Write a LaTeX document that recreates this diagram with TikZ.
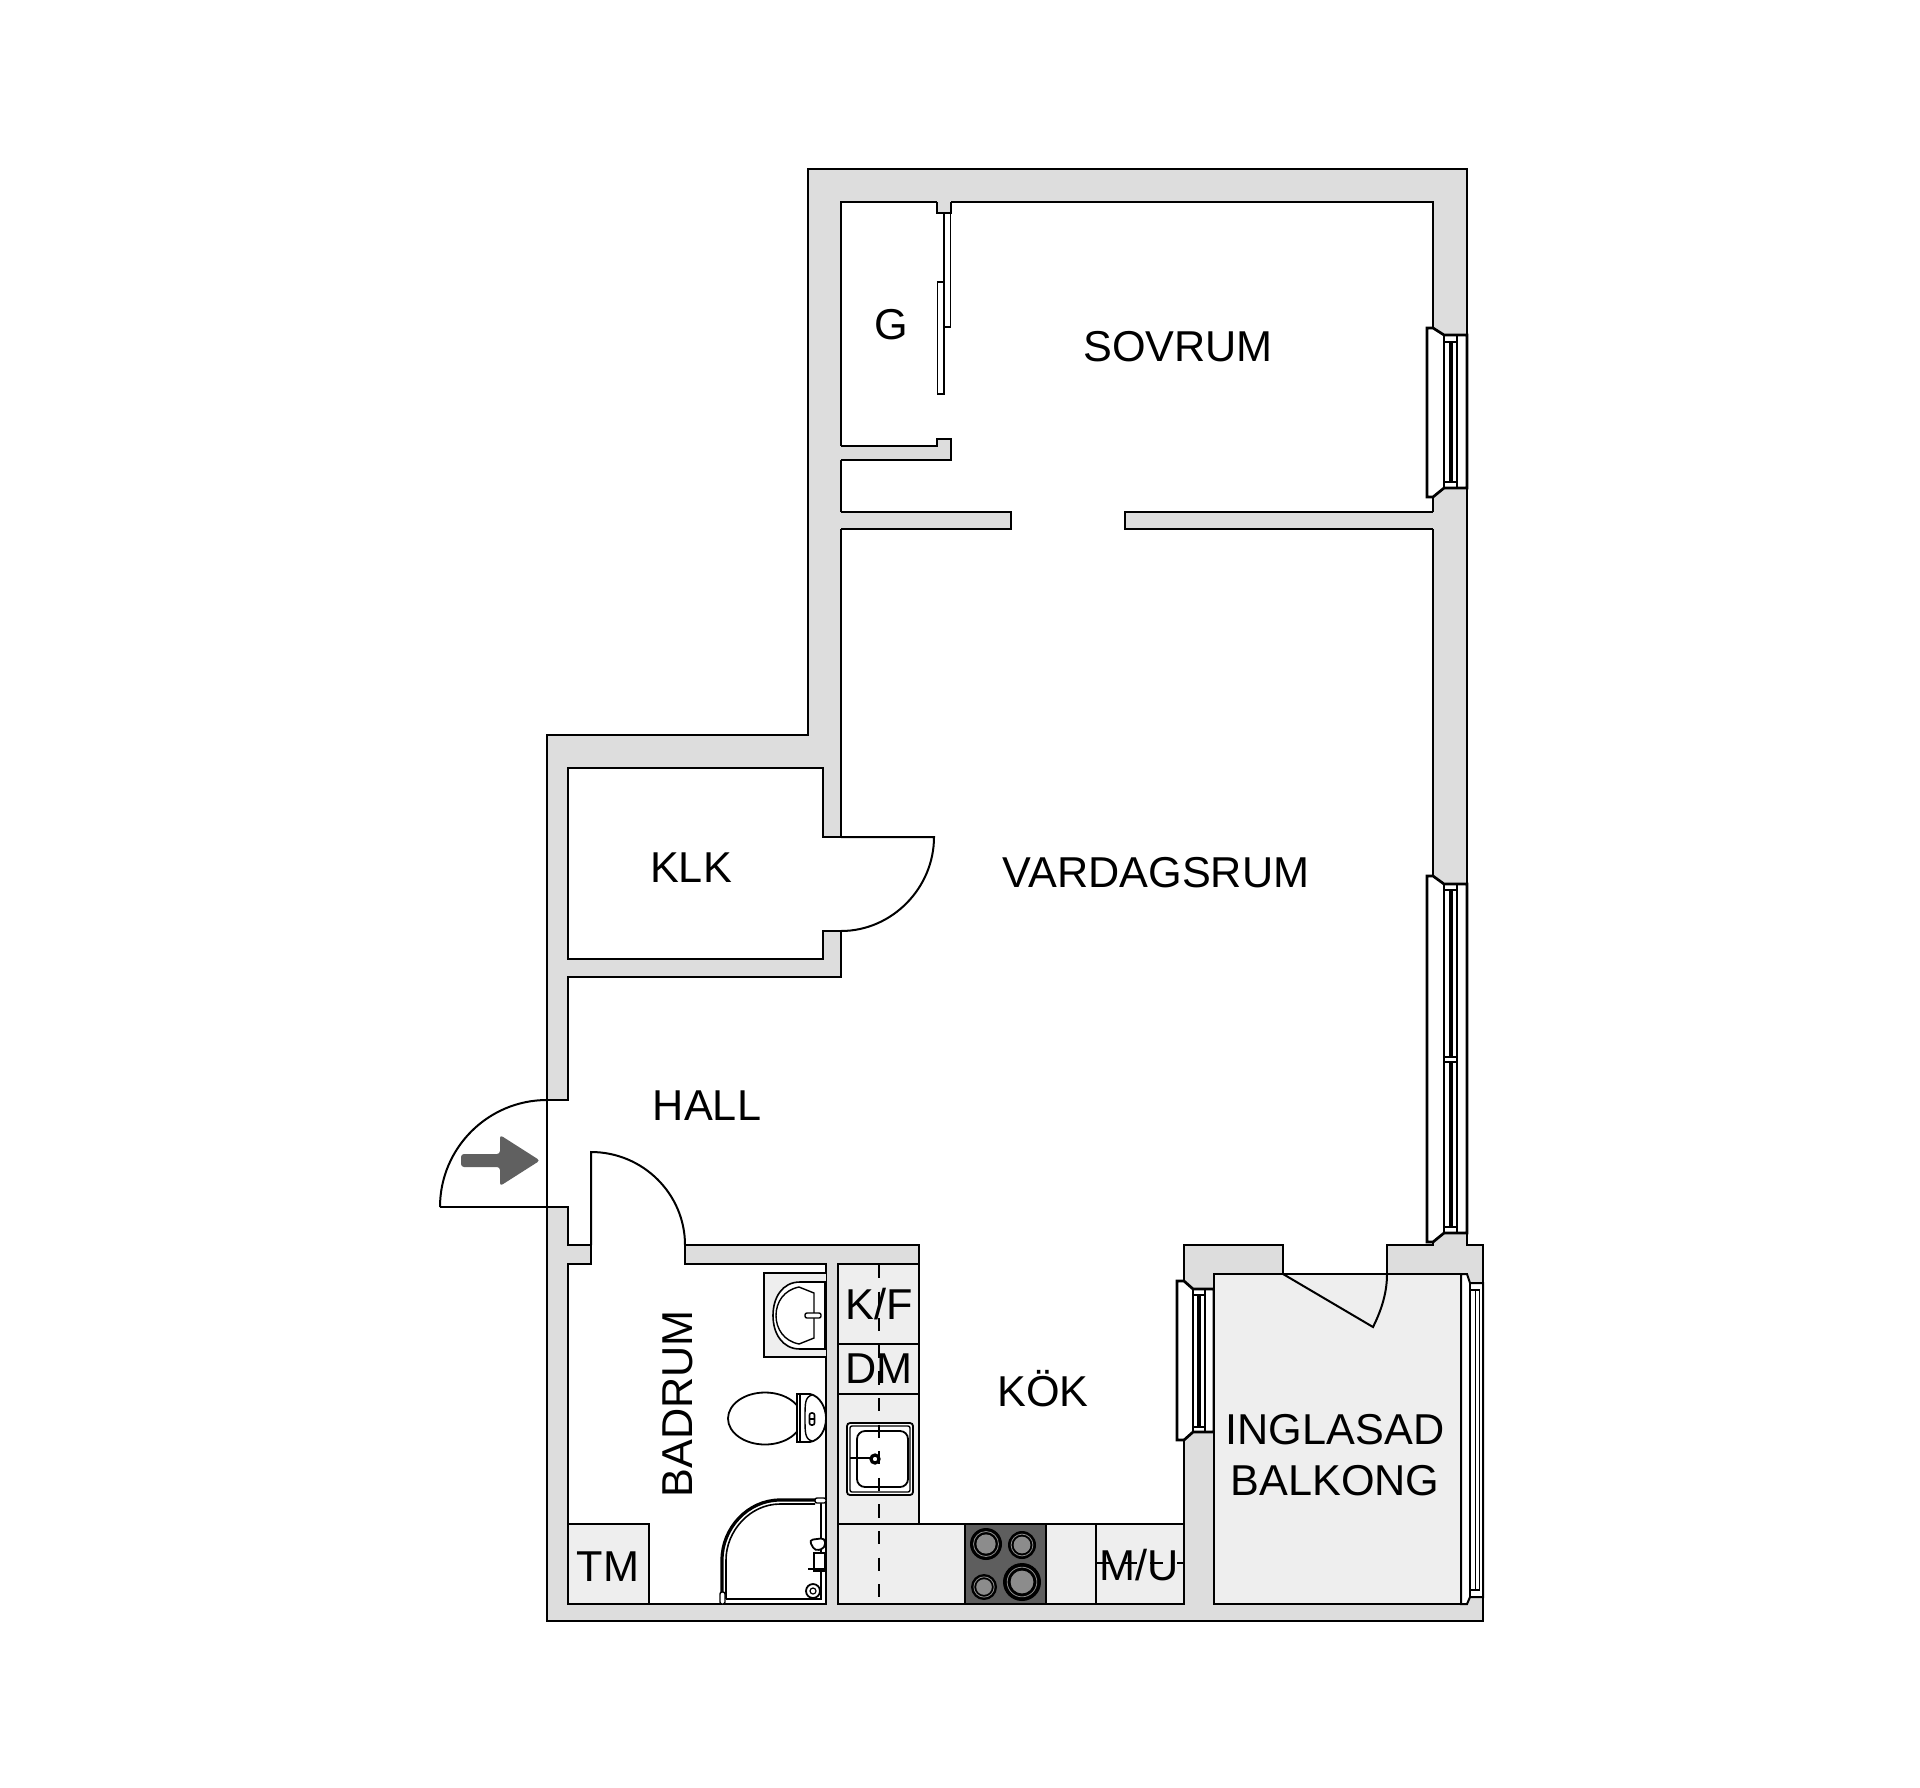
\documentclass[tikz,border=0pt]{standalone}
\usepackage{fontspec}
\setmainfont{Liberation Sans}
\usepackage{tikz}
\definecolor{wallgray}{HTML}{DDDDDD}
\definecolor{unitgray}{HTML}{EEEEEE}
\definecolor{hobgray}{HTML}{5E5E5E}
\definecolor{plategray}{HTML}{8C8C8C}
\definecolor{arrowgray}{HTML}{606060}
\tikzset{
    room/.style={inner sep=0pt, align=center, font=\fontsize{21.6}{25.5}\selectfont},
    wallline/.style={draw=black, line width=1.35pt, line join=miter},
    thinline/.style={draw=black, line width=0.65pt},
    fixture/.style={draw=black, line width=0.9pt, fill=white},
    dashline/.style={draw=black, line width=0.8pt, dash pattern=on 6.6pt off 6.7pt},
}

\begin{document}
\begin{tikzpicture}[x=0.5pt, y=-0.5pt]
    \useasboundingbox (0,0) rectangle (1920,1787);

    % Outer shell
    \filldraw[fill=wallgray, draw=black, line width=1pt] (808,169) -- (1467,169) -- (1467,1245) -- (1483,1245)
        -- (1483,1621) -- (547,1621) -- (547,735) -- (808,735) -- cycle;

    % Rooms, one floor area
    \filldraw[fill=white, wallline] (841,202) -- (1433,202) -- (1433,1245) -- (1387,1245) -- (1387,1274)
        -- (1283,1274) -- (1283,1245) -- (1184,1245) -- (1184,1524) -- (919,1524) -- (919,1245)
        -- (685,1245) -- (685,1264) -- (826,1264) -- (826,1604) -- (568,1604) -- (568,1264)
        -- (591,1264) -- (591,1245) -- (568,1245) -- (568,1207) -- (547,1207) -- (547,1100)
        -- (568,1100) -- (568,977) -- (841,977) -- (841,931) -- (823,931) -- (823,959)
        -- (568,959) -- (568,768) -- (823,768) -- (823,837) -- (841,837) -- cycle;

    % Inner walls
    \fill[wallgray] (838,512) rectangle (1011,529);
    \draw[wallline] (841,512) -- (1011,512) -- (1011,529) -- (841,529);
    \fill[wallgray] (1125,512) rectangle (1436,529);
    \draw[wallline] (1433,512) -- (1125,512) -- (1125,529) -- (1433,529);
    \fill[wallgray] (838,446) -- (937,446) -- (937,439) -- (951,439) -- (951,460) -- (838,460) -- cycle;
    \draw[wallline] (841,446) -- (937,446) -- (937,439) -- (951,439) -- (951,460) -- (841,460);
    \fill[wallgray] (937,199) rectangle (951,213);
    \draw[wallline] (937,202) -- (937,213) -- (951,213) -- (951,202);

    % Sliding doors
    \filldraw[fill=white, thinline] (944,213) rectangle (950.5,327);
    \filldraw[fill=white, thinline] (937.5,282) rectangle (944,394);

    % Sovrum window
    \filldraw[fill=white, wallline] (1427,328) -- (1433,328) -- (1444,335) -- (1467,335) -- (1467,488)
        -- (1444,488) -- (1433,497) -- (1427,497) -- cycle;
    \draw[thinline] (1444,335) -- (1444,488) (1450,342) -- (1450,482) (1452,342) -- (1452,482) (1457,335) -- (1457,488);
    \draw[thinline] (1444,342) -- (1457,342) (1444,482) -- (1457,482);

    % Vardagsrum window
    \filldraw[fill=white, wallline] (1427,876) -- (1433,876) -- (1444,884) -- (1467,884) -- (1467,1233)
        -- (1444,1233) -- (1433,1242) -- (1427,1242) -- cycle;
    \draw[thinline] (1444,884) -- (1444,1233) (1450,890) -- (1450,1227) (1452,890) -- (1452,1227) (1457,884) -- (1457,1233);
    \draw[thinline] (1444,890) -- (1457,890) (1444,1227) -- (1457,1227);
    \filldraw[fill=white, thinline] (1444,1057) rectangle (1457,1062);

    % Kok window
    \filldraw[fill=white, wallline] (1177,1281) -- (1184,1281) -- (1193,1289) -- (1214,1289) -- (1214,1432)
        -- (1193,1432) -- (1184,1440) -- (1177,1440) -- cycle;
    \draw[thinline] (1193,1289) -- (1193,1432) (1198,1295) -- (1198,1427) (1200,1295) -- (1200,1427) (1205,1289) -- (1205,1432);
    \draw[thinline] (1193,1295) -- (1205,1295) (1193,1427) -- (1205,1427);

    % Balcony
    \filldraw[fill=unitgray, wallline] (1214,1274) rectangle (1461,1604);
    \filldraw[fill=white, wallline, line width=1pt] (1461,1274) -- (1467,1274) -- (1470,1283) -- (1483,1283) -- (1483,1597)
        -- (1470,1597) -- (1467,1604) -- (1461,1604) -- cycle;
    \draw[thinline] (1470,1283) -- (1470,1597) (1475.5,1290) -- (1475.5,1590) (1479.5,1290) -- (1479.5,1590);
    \draw[thinline] (1470,1290) -- (1480,1290) (1470,1590) -- (1480,1590);
    \draw[line width=1.4pt] (1483,1283) -- (1483,1597);
    \draw[wallline, line width=1pt] (1283,1274) -- (1373,1327) .. controls (1383,1307) and (1387,1290) .. (1387,1274);

    % Doors
    \draw[wallline, line width=1pt] (440,1207) -- (547,1207);
    \draw[wallline, line width=1pt] (440,1207) .. controls (440,1148) and (488,1100) .. (547,1100);
    \draw[wallline, line width=1pt] (591,1245) -- (591,1152) .. controls (643,1152) and (685,1194) .. (685,1245);
    \draw[wallline, line width=1pt] (841,837) -- (934,837) .. controls (934,888) and (892,931) .. (841,931);

    % Entrance arrow
    \fill[arrowgray, rounded corners=1.5pt] (461,1154) -- (500,1154) -- (500,1135) -- (540,1160.5) -- (500,1186) -- (500,1167) -- (461,1167) -- cycle;

    % Kitchen units
    \filldraw[fill=unitgray, wallline] (838,1264) -- (919,1264) -- (919,1524) -- (1184,1524) -- (1184,1604) -- (838,1604) -- cycle;
    \draw[wallline, line width=1pt] (838,1344) -- (919,1344) (838,1394) -- (919,1394) (838,1524) -- (919,1524) (1096,1524) -- (1096,1604);
    \draw[wallline] (826,1264) -- (826,1604);

    % Sink
    \draw[fixture, rounded corners=1.5pt] (847,1423) rectangle (913,1495);
    \draw[fixture, rounded corners=1pt, line width=0.7pt] (850,1426) rectangle (910,1492);
    \draw[fixture, rounded corners=4pt] (857,1431) rectangle (908,1487);
    \draw[line width=1.4pt] (850,1458) -- (875,1458);
    \filldraw[fill=white, draw=black, line width=1.6pt] (875,1459) circle (4);

    % Hob
    \filldraw[fill=hobgray, wallline, line width=0.8pt] (965,1524) rectangle (1046,1604);
    \foreach \px/\py/\pr in {986/1544/16, 1022/1545/14, 984/1587/13, 1022/1582/19} {
        \fill[black] (\px,\py) circle (\pr);
        \draw[plategray, line width=0.4pt] (\px,\py) circle (\pr*0.78);
        \fill[plategray] (\px,\py) circle (\pr*0.6);
    }

    % Dashed line over the units
    \draw[dashline] (879,1265) -- (879,1604);
    \draw[dashline] (1097,1563) -- (1184,1563);

    % Tvattmaskin box and basin
    \filldraw[fill=unitgray, wallline, line width=0.9pt] (568,1524) rectangle (649,1604);
    \filldraw[fill=unitgray, wallline, line width=0.9pt] (826,1273) -- (764,1273) -- (764,1357) -- (826,1357);
    \filldraw[fill=white, draw=black, line width=0.8pt] (825,1282) -- (800,1282) .. controls (782,1282) and (773,1298) .. (773,1315.5)
        .. controls (773,1333) and (782,1349) .. (800,1349) -- (825,1349) -- cycle;
    \draw[line width=0.7pt] (799,1287) .. controls (784,1290) and (776,1302) .. (776,1315.5) .. controls (776,1329) and (784,1341) .. (799,1344)
        -- (814,1338) -- (814,1293) -- cycle;
    \draw[line width=0.7pt, fill=white, rounded corners=1pt] (805,1313) rectangle (821,1318);

    % Toilet
    \draw[fixture] (765,1418.5) ellipse (37 and 26);
    \filldraw[fill=white, draw=black, line width=0.9pt] (797,1394) -- (810,1394) .. controls (820,1396) and (826,1408) .. (826,1418)
        .. controls (826,1430) and (820,1440) .. (810,1442) -- (797,1442) -- cycle;
    \draw[line width=0.8pt] (800,1395) -- (800,1441);
    \draw[line width=0.7pt] (812,1395) .. controls (805,1397) and (805,1403) .. (805,1418) .. controls (805,1433) and (805,1439) .. (812,1441);
    \draw[line width=0.8pt, rounded corners=1pt] (809.5,1413) rectangle (814.5,1425) (809.5,1419) -- (814.5,1419);

    % Shower
    \draw[line width=1.6pt] (722,1595) -- (722,1560) .. controls (722,1528) and (748,1500) .. (780,1500) -- (815,1500);
    \draw[line width=0.8pt] (726,1599) -- (726,1560) .. controls (726,1531) and (750,1504) .. (780,1504) -- (815,1504);
    \draw[line width=0.8pt] (821,1503) -- (821,1599) -- (726,1599);
    \draw[fixture, line width=0.7pt, rounded corners=1pt] (815,1498) rectangle (826,1503);
    \draw[fixture, line width=0.7pt, rounded corners=1pt] (720,1592) rectangle (725,1604);
    \draw[fixture, rounded corners=2pt] (809,1540) -- (825,1538) -- (825,1548) -- (815,1551) -- cycle;
    \draw[fixture, line width=1.1pt] (814,1553) rectangle (825,1571);
    \draw[line width=0.6pt] (808,1569) -- (825,1569);
    \draw[fixture] (813,1591) circle (7);
    \draw[line width=0.6pt] (813,1591) circle (3);

    % Room names
    \node[room] (sovrum) at (1178,347) {SOVRUM};
    \node[room] (garderob) at (891,325) {G};
    \node[room] (klk) at (691,868) {KLK};
    \node[room] (vardagsrum) at (1156,873) {VARDAGSRUM};
    \node[room] (hall) at (707,1106) {HALL};
    \node[room, rotate=90] (badrum) at (678,1404) {BADRUM};
    \node[room] (kok) at (1043,1389) {KÖK};
    \node[room] (kf) at (879,1304) {K/F};
    \node[room] (dm) at (879,1369) {DM};
    \node[room] (tm) at (608,1567) {TM};
    \node[room] (mu) at (1139,1565) {M/U};
    \node[room] (balkong) at (1335,1455) {INGLASAD\\BALKONG};
\end{tikzpicture}
\end{document}
